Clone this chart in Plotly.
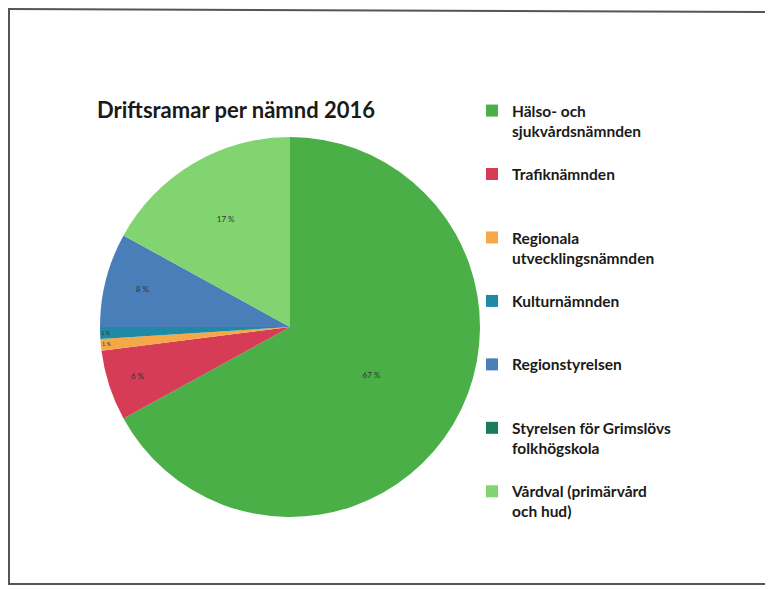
import plotly.graph_objects as go

# --- data -------------------------------------------------------------
labels = [
    "Hälso- och<br>sjukvårdsnämnden",
    "Trafiknämnden",
    "Regionala<br>utvecklingsnämnden",
    "Kulturnämnden",
    "Regionstyrelsen",
    "Styrelsen för Grimslövs<br>folkhögskola",
    "Vårdval (primärvård<br>och hud)",
]
shares = [67, 6, 1, 1, 8, 0, 17]   # percent of total
colors = ["#4BAF47", "#D63C55", "#F5A845", "#1E8AA6", "#4A7EB9", "#1D7A5E", "#82D470"]
title_text = "Driftsramar per nämnd 2016"

# --- derived text -----------------------------------------------------
slice_text = [f"{round(v)} %" if v >= 0.5 else "" for v in shares]
NB = "\u00a0"
legend_labels = []
for lab in labels:
    n = lab.count("<br>") + 1
    legend_labels.append(lab + ("<br>" + NB) * (3 - n))

# page has an 8px body margin; figure fills the rest of the window
W, H = 765, 581

fig = go.Figure(
    go.Pie(
        labels=legend_labels,
        values=shares,
        text=slice_text,
        textinfo="text",
        textposition="inside",
        insidetextorientation="horizontal",
        textfont=dict(family="Lato", size=8, color="#333333"),
        sort=False,
        direction="clockwise",
        rotation=0,
        marker=dict(colors=colors, line=dict(width=0)),
        domain=dict(x=[92 / W, 472 / W], y=[1 - 509 / H, 1 - 129 / H]),
        hoverinfo="label+percent",
    )
)

fig.update_layout(
    width=W,
    height=H,
    margin=dict(l=0, r=0, t=0, b=0),
    paper_bgcolor="white",
    plot_bgcolor="white",
    title=dict(
        text=title_text,
        x=89 / W,
        xanchor="left",
        y=1 - 102 / H,
        yanchor="middle",
        font=dict(family="Lato", size=22, color="#1a1a1a", weight="bold"),
    ),
    legend=dict(
        x=464 / W,
        xanchor="left",
        y=1 - 86 / H,
        yanchor="top",
        valign="top",
        font=dict(family="Lato", size=15.5, color="#1a1a1a", weight="bold"),
        bgcolor="rgba(0,0,0,0)",
    ),
    shapes=[
        dict(type="line", xref="paper", yref="paper", x0=1 / W, x1=1.0, y0=1 - 1 / H, y1=1 - 4 / H,
             line=dict(color="#555555", width=2)),
        dict(type="line", xref="paper", yref="paper", x0=1 / W, x1=1 / W, y0=1 - 0 / H, y1=1 - 577 / H,
             line=dict(color="#555555", width=2)),
        dict(type="line", xref="paper", yref="paper", x0=1 / W, x1=1.0, y0=1 - 576 / H, y1=1 - 576 / H,
             line=dict(color="#555555", width=2)),
    ],
)

fig.write_html("out.html")
